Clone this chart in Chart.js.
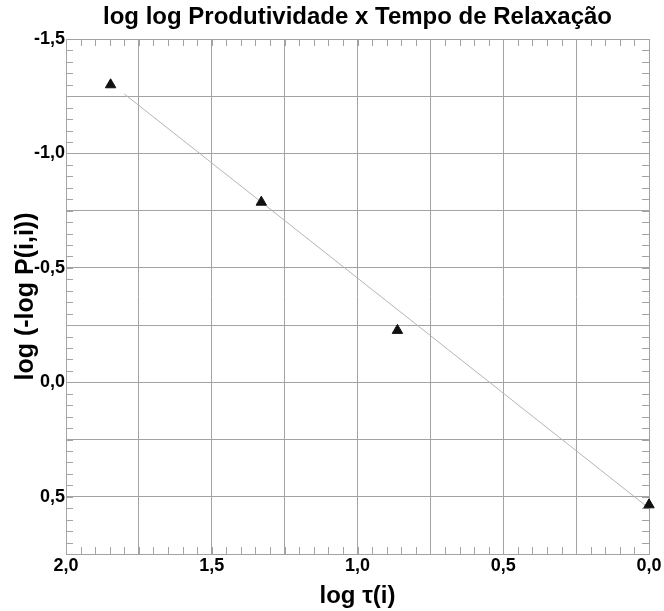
<!DOCTYPE html>
<html>
<head>
<meta charset="utf-8">
<script src="https://cdn.jsdelivr.net/npm/chart.js@4.4.0/dist/chart.umd.min.js"></script>
<style>
  html, body { margin: 0; padding: 0; background: #fff; }
  #wrap { width: 664px; height: 611px; }
</style>
</head>
<body>
<div id="wrap"><canvas id="chart" width="664" height="611"></canvas></div>
<script>
'use strict';

/* =============================================
   DATA
   ============================================= */
const tauLog = [1.847, 1.33, 0.863, 0.0];        // log tau(i)
const prodLog = [-1.30, -0.787, -0.227, 0.535];   // log(-log P(i,i))
const fitX = [1.80, 0.0];                         // regression line ends
const fitY = [-1.26, 0.55];
const xLabelTicks = [2.0, 1.5, 1.0, 0.5, 0.0];
const yLabelTicks = [-1.5, -1.0, -0.5, 0.0, 0.5];
const chartTitle = 'log log Produtividade x Tempo de Relaxação';

const FONT = "'Liberation Sans', Arial, sans-serif";
const GRID = '#a3a3a3';

const isMajor = v => Math.abs(v * 4 - Math.round(v * 4)) < 1e-6;
const hasLabel = (list, v) => list.some(t => Math.abs(t - v) < 1e-6);
const fmt = v => Math.abs(v).toFixed(1) === '0.0' ? '0,0' : v.toFixed(1).replace('.', ',');

/* =============================================
   INWARD MINOR TICKS + TITLE OVER PLOT AREA
   ============================================= */
const minorTicks = {
  id: 'minorTicks',
  beforeDatasetsDraw(chart) {
    const { ctx, chartArea: a, scales } = chart;
    const len = 7;
    ctx.save();
    ctx.strokeStyle = GRID;
    ctx.lineWidth = 1;
    ctx.beginPath();
    scales.x.ticks.forEach(t => {
      const px = Math.round(scales.x.getPixelForValue(t.value)) + 0.5;
      ctx.moveTo(px, a.bottom); ctx.lineTo(px, a.bottom - len);
      ctx.moveTo(px, a.top); ctx.lineTo(px, a.top + len);
    });
    scales.y.ticks.forEach(t => {
      const py = Math.round(scales.y.getPixelForValue(t.value)) + 0.5;
      ctx.moveTo(a.left, py); ctx.lineTo(a.left + len, py);
      ctx.moveTo(a.right, py); ctx.lineTo(a.right - len, py);
    });
    ctx.stroke();
    ctx.restore();
  },
  afterDraw(chart) {
    const { ctx, chartArea: a } = chart;
    ctx.save();
    ctx.fillStyle = '#000';
    ctx.font = `bold 24px ${FONT}`;
    ctx.textAlign = 'center';
    ctx.textBaseline = 'middle';
    ctx.fillText(chartTitle, (a.left + a.right) / 2, 17);
    ctx.restore();
  }
};

/* =============================================
   CHART
   ============================================= */
const tickFont = { family: FONT, size: 18, weight: 'bold' };

new Chart(document.getElementById('chart'), {
  type: 'scatter',
  data: {
    datasets: [
      {
        data: tauLog.map((x, i) => ({ x, y: prodLog[i] })),
        pointStyle: 'triangle',
        pointRadius: 6,
        backgroundColor: '#111',
        borderColor: '#111',
        borderWidth: 1,
        clip: false,
      },
      {
        data: fitX.map((x, i) => ({ x, y: fitY[i] })),
        showLine: true,
        pointRadius: 0,
        borderColor: '#b4b4b4',
        borderWidth: 1,
      }
    ]
  },
  options: {
    responsive: false,
    animation: false,
    layout: { padding: { left: 0, right: 15, top: 39, bottom: 0 } },
    plugins: {
      legend: { display: false },
      tooltip: { enabled: false },
      title: { display: false }
    },
    scales: {
      x: {
        type: 'linear',
        min: 0, max: 2,
        reverse: true,
        afterFit: s => { s.height = 57; },
        ticks: {
          stepSize: 0.05, autoSkip: false, maxRotation: 0,
          color: '#000', font: tickFont, padding: 1,
          callback: v => hasLabel(xLabelTicks, v) ? fmt(v) : ''
        },
        grid: { color: c => isMajor(c.tick.value) ? GRID : 'rgba(0,0,0,0)', drawTicks: false },
        border: { color: GRID, width: 1 },
        title: {
          display: true, text: 'log τ(i)', color: '#000',
          font: { family: FONT, size: 24, weight: 'bold', lineHeight: 1.2 },
          padding: { top: 0, bottom: 0 }
        }
      },
      y: {
        type: 'linear',
        min: -1.5, max: 0.75,
        reverse: true,
        afterFit: s => { s.width = 66; },
        ticks: {
          stepSize: 0.05, autoSkip: false,
          color: '#000', font: tickFont, padding: 1,
          callback: v => hasLabel(yLabelTicks, v) ? fmt(v) : ''
        },
        grid: { color: c => isMajor(c.tick.value) ? GRID : 'rgba(0,0,0,0)', drawTicks: false },
        border: { color: GRID, width: 1 },
        title: {
          display: true, text: 'log (-log P(i,i))', color: '#000',
          font: { family: FONT, size: 25, weight: 'bold', lineHeight: 1.2 },
          padding: { top: 11, bottom: 0 }
        }
      }
    }
  },
  plugins: [minorTicks]
});
</script>
</body>
</html>
